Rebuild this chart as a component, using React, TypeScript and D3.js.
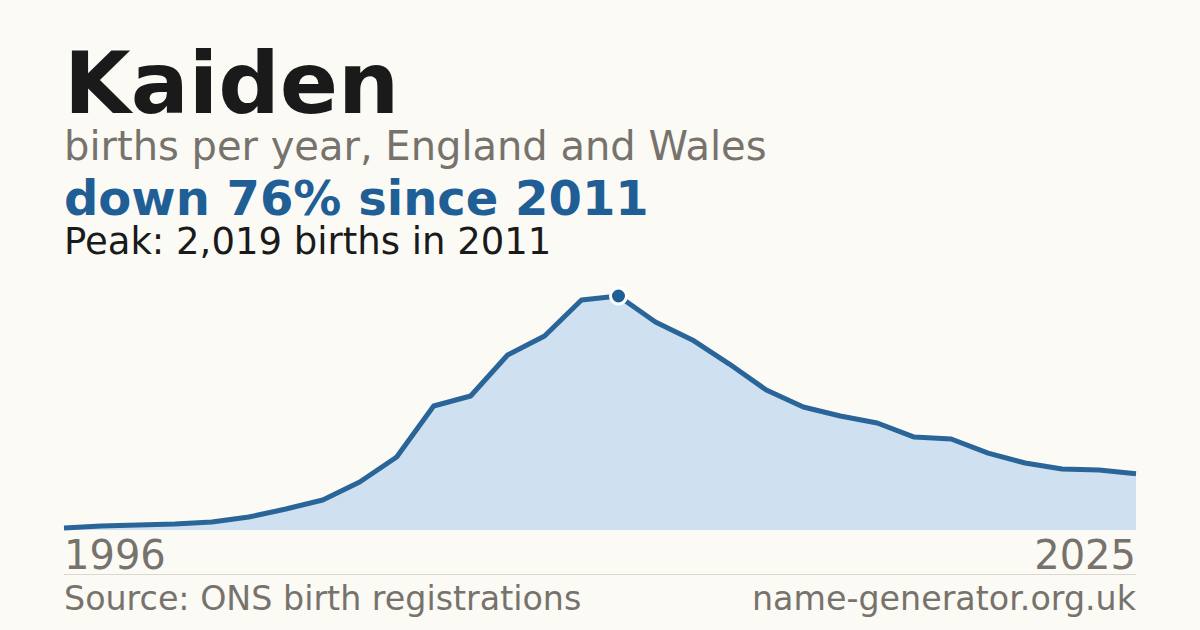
import { useEffect, useRef } from "react";
import * as d3 from "d3";

const years = d3.range(1996, 2026);
const births = [
  17, 35, 43, 52, 69, 112, 181, 259, 414, 630,
  1070, 1156, 1510, 1674, 1985, 2019, 1795, 1640, 1432, 1208,
  1061, 984, 923, 802, 785, 664, 578, 526, 518, 485,
];
const peakYear = 2011;
const peakValue = 2019;

export default function App() {
  const svgRef = useRef<SVGSVGElement>(null);

  useEffect(() => {
    if (!svgRef.current) return;
    const width = 1200;
    const height = 630;
    const left = 64;
    const right = 1136;
    const base = 530;
    const font = "'DejaVu Sans', sans-serif";

    const svg = d3.select(svgRef.current);
    svg.selectAll("*").remove();

    svg.append("rect").attr("width", width).attr("height", height).attr("fill", "#fbfaf5");

    const x = d3.scaleLinear().domain([1996, 2025]).range([left, right]);
    const y = d3.scaleLinear().domain([0, peakValue]).range([base, 296]);

    const data = years.map((yr, i) => ({ yr, v: births[i] }));

    const area = d3.area<{ yr: number; v: number }>()
      .x(d => x(d.yr))
      .y0(base)
      .y1(d => y(d.v));
    const line = d3.line<{ yr: number; v: number }>()
      .x(d => x(d.yr))
      .y(d => y(d.v));

    svg.append("path").attr("d", area(data)).attr("fill", "#cfe0f0");
    svg.append("path")
      .attr("d", line(data))
      .attr("fill", "none")
      .attr("stroke", "#2a6599")
      .attr("stroke-width", 5)
      .attr("stroke-linejoin", "round");

    svg.append("circle")
      .attr("cx", x(peakYear))
      .attr("cy", y(peakValue))
      .attr("r", 8)
      .attr("fill", "#1f5f96")
      .attr("stroke", "#ffffff")
      .attr("stroke-width", 3);

    // header
    const txt = (t: string, ty: number, size: number, fill: string, weight = "normal") =>
      svg.append("text")
        .attr("x", left)
        .attr("y", ty)
        .attr("font-family", font)
        .attr("font-size", size)
        .attr("font-weight", weight)
        .attr("fill", fill)
        .text(t);

    txt("Kaiden", 113, 86, "#1a1a1a", "bold");
    txt("births per year, England and Wales", 160, 40, "#77736c");
    txt("down 76% since 2011", 215, 48, "#1f5f96", "bold");
    txt("Peak: 2,019 births in 2011", 254, 37, "#1a1a1a");

    // year labels
    svg.append("text")
      .attr("x", x(1996)).attr("y", 569)
      .attr("font-family", font).attr("font-size", 40).attr("fill", "#77736c")
      .text("1996");
    svg.append("text")
      .attr("x", x(2025)).attr("y", 569)
      .attr("text-anchor", "end")
      .attr("font-family", font).attr("font-size", 40).attr("fill", "#77736c")
      .text("2025");

    svg.append("line")
      .attr("x1", left).attr("x2", right)
      .attr("y1", 574.5).attr("y2", 574.5)
      .attr("stroke", "#ddd8cf").attr("stroke-width", 1);

    // footer
    svg.append("text")
      .attr("x", left).attr("y", 610)
      .attr("font-family", font).attr("font-size", 33.3).attr("fill", "#77736c")
      .text("Source: ONS birth registrations");
    svg.append("text")
      .attr("x", right).attr("y", 610)
      .attr("text-anchor", "end")
      .attr("font-family", font).attr("font-size", 33.3).attr("fill", "#77736c")
      .text("name-generator.org.uk");
  }, []);

  return (
    <svg
      ref={svgRef}
      width={1200}
      height={630}
      style={{ position: "absolute", left: 0, top: 0, display: "block" }}
    />
  );
}
